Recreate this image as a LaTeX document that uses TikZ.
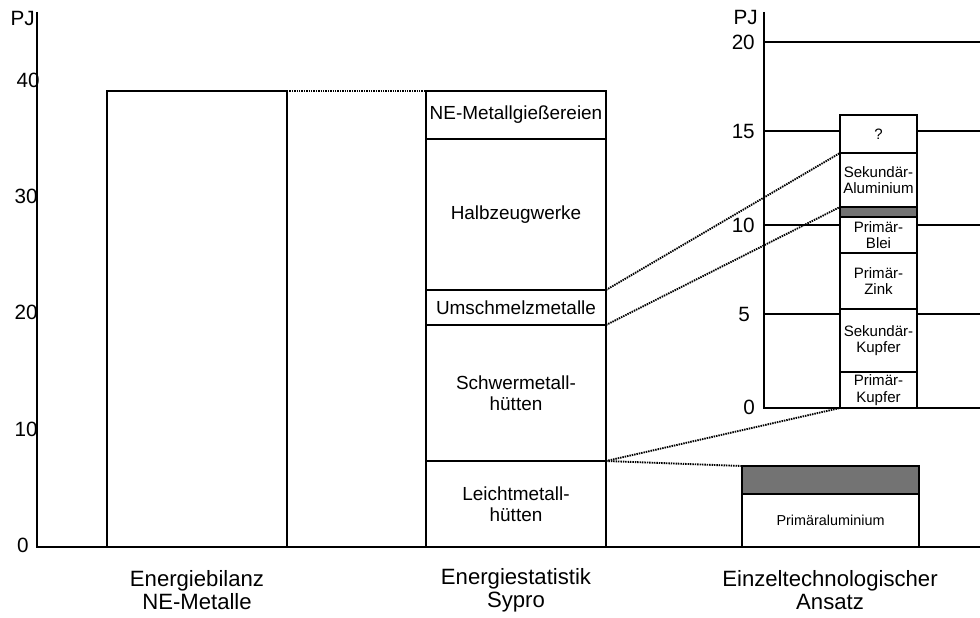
\documentclass[tikz,border=0pt]{standalone}
\usepackage{fontspec}
\setmainfont{Liberation Sans}
\begin{document}
\begin{tikzpicture}[x=0.75pt,y=-0.75pt,
  axisline/.style={line width=1.9pt},
  gridline/.style={line width=1.3pt},
  segbox/.style={draw,fill=white,line width=1.3pt,inner sep=0pt,outer sep=0pt,align=center,font=\fontsize{14.2}{16}\selectfont},
  smallseg/.style={segbox,font=\fontsize{11.3}{12.3}\selectfont},
  wideseg/.style={segbox,font=\fontsize{10.8}{12}\selectfont},
  hatchseg/.style={draw,fill=black!55,line width=1.3pt,inner sep=0pt,outer sep=0pt},
  link/.style={line width=1.4pt,dash pattern=on 1.1pt off 0.7pt},
  ticklabel/.style={anchor=east,inner sep=0pt,font=\fontsize{15.5}{16}\selectfont},
  caption/.style={align=center,font=\fontsize{16.6}{17}\selectfont}]
\useasboundingbox (0,0) rectangle (980,617);

% box spanning (x1,y1)-(x2,y2) in drawing units
\newcommand\segment[7]{%
  \pgfmathsetmacro\segw{(#5-#3)*0.75}%
  \pgfmathsetmacro\segh{(#6-#4)*0.75}%
  \node[#1, minimum width=\segw pt, minimum height=\segh pt]
    (#2) at ({(#3+#5)/2},{(#4+#6)/2}) {#7};}

% --- left axis ---
\coordinate (ltop) at (37,12);
\coordinate (rend) at (980,547);
\draw[axisline] (ltop) |- (rend);
\node[ticklabel] (lpj) at (35,18) {PJ};
\node[ticklabel] (l40) at (40,80) {40};
\node[ticklabel] (l30) at (38,196) {30};
\node[ticklabel] (l20) at (38,312) {20};
\node[ticklabel] (l10) at (38,429) {10};
\node[ticklabel] (l0) at (29,545) {0};

% --- inset axis with grid ---
\coordinate (rtop) at (764,12);
\coordinate (rbase) at (980,408);
\foreach \yy in {42,131,225,314}
  \draw[gridline] (764,\yy) -- (980,\yy);
\draw[axisline] (rtop) |- (rbase);
\node[ticklabel] (rpj) at (758,17) {PJ};
\node[ticklabel] (r20) at (755,42) {20};
\node[ticklabel] (r15) at (755,131) {15};
\node[ticklabel] (r10) at (755,225) {10};
\node[ticklabel] (r5) at (750,314) {5};
\node[ticklabel] (r0) at (755,407) {0};

% --- Energiebilanz ---
\segment{segbox}{bilanz}{107}{91}{287}{547}{}

% --- Energiestatistik Sypro ---
\segment{segbox}{gies}{426}{91}{606}{139}{NE-Metallgießereien}
\segment{segbox}{halb}{426}{139}{606}{290}{Halbzeugwerke}
\segment{segbox}{umsch}{426}{290}{606}{325}{Umschmelzmetalle}
\segment{segbox}{schwer}{426}{325}{606}{461}{Schwermetall-\\hütten}
\segment{segbox}{leicht}{426}{461}{606}{547}{Leichtmetall-\\hütten}

% --- Primäraluminium ---
\segment{hatchseg}{alhatch}{742}{466}{919}{494}{}
\segment{wideseg}{primal}{742}{494}{919}{547}{Primäraluminium}

% --- inset stack ---
\segment{smallseg}{unk}{840}{115}{917}{153}{?}
\segment{smallseg}{sekal}{840}{153}{917}{207}{Sekundär-\\Aluminium}
\segment{hatchseg}{sekhatch}{840}{207}{917}{217}{}
\segment{smallseg}{blei}{840}{217}{917}{253}{Primär-\\Blei}
\segment{smallseg}{zink}{840}{253}{917}{309}{Primär-\\Zink}
\segment{smallseg}{sekcu}{840}{309}{917}{372}{Sekundär-\\Kupfer}
\segment{smallseg}{pricu}{840}{372}{917}{408}{Primär-\\Kupfer}

% --- dotted links ---
\draw[link] (bilanz.north east) -- (gies.north west);
\draw[link] (umsch.north east) -- (sekal.north west);
\draw[link] (umsch.south east) -- (sekal.south west);
\draw[link] (schwer.south east) -- (pricu.south west);
\draw[link] (schwer.south east) -- (alhatch.north west);

% --- captions ---
\node[caption] (c1) at (197,590) {Energiebilanz\\NE-Metalle};
\node[caption] (c2) at (516,590) {Energiestatistik\\Sypro};
\node[caption] (c3) at (830,590) {Einzeltechnologischer\\Ansatz};
\end{tikzpicture}
\end{document}
